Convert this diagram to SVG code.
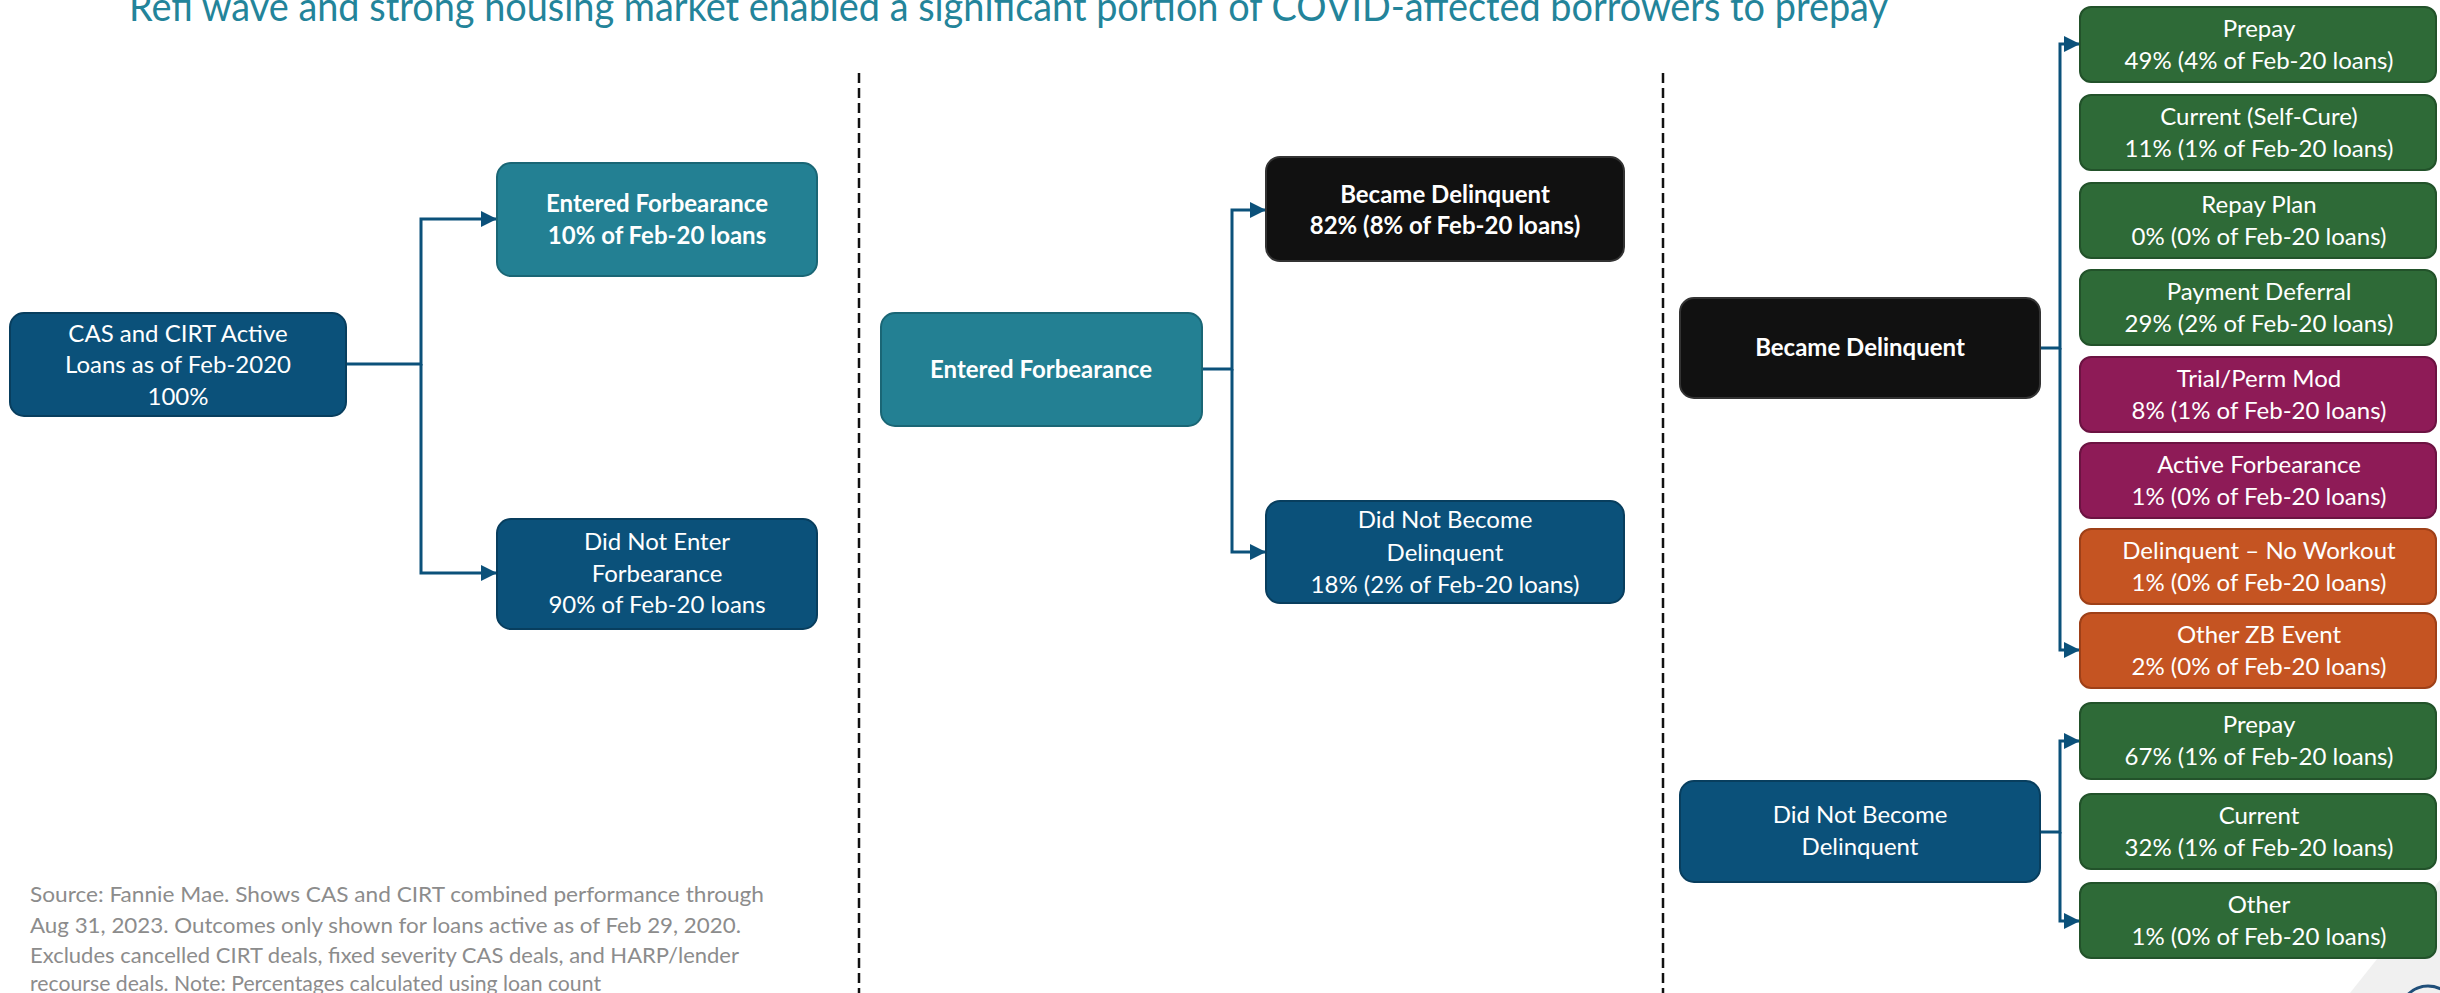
<svg xmlns="http://www.w3.org/2000/svg" width="2440" height="993" viewBox="0 0 2440 993">
<defs>
<style>
.t{font-family:Lato,"Noto Sans",sans-serif;font-size:24px;fill:#ffffff;text-anchor:middle}
.b{font-weight:bold}
.blue{fill:#0B517A;stroke:#083E5E;stroke-width:2}
.teal{fill:#238093;stroke:#1A6675;stroke-width:2}
.blk{fill:#111111;stroke:#333333;stroke-width:2}
.grn{fill:#2E6A37;stroke:#22522A;stroke-width:2}
.mag{fill:#8E1B57;stroke:#6C1342;stroke-width:2}
.org{fill:#C55422;stroke:#9E4018;stroke-width:2}
.con{fill:none;stroke:#0B517A;stroke-width:3}
.dash{stroke:#111111;stroke-width:2.5;stroke-dasharray:10 5}
.foot{font-family:Lato,"Noto Sans",sans-serif;font-size:22px;fill:#8C8C8C}
</style>
<marker id="arr" markerUnits="userSpaceOnUse" markerWidth="16" markerHeight="16" refX="16" refY="8" orient="auto">
<path d="M0,0 L16,8 L0,16 z" fill="#0B517A"/>
</marker>
</defs>
<rect width="2440" height="993" fill="#ffffff"/>
<polygon points="2350,993 2440,880 2440,993" fill="#F0F0F0"/>
<circle cx="2428" cy="1014" r="28" fill="none" stroke="#1F4E79" stroke-width="3"/>
<text x="129" y="21" font-family="Lato,'Noto Sans',sans-serif" font-size="40" fill="#23849A" textLength="1759" lengthAdjust="spacingAndGlyphs">Refi wave and strong housing market enabled a significant portion of COVID-affected borrowers to prepay</text>
<g id="dividers">
<line class="dash" x1="859" y1="73" x2="859" y2="993"/>
<line class="dash" x1="1663" y1="73" x2="1663" y2="993"/>
</g>
<g id="connectors">
<path class="con" d="M346,364 H421 V219 H497" marker-end="url(#arr)"/>
<path class="con" d="M421,364 V573 H497" marker-end="url(#arr)"/>
<path class="con" d="M1202,369 H1232 V210 H1266" marker-end="url(#arr)"/>
<path class="con" d="M1232,369 V552 H1266" marker-end="url(#arr)"/>
<path class="con" d="M2040,348 H2060 V44 H2080" marker-end="url(#arr)"/>
<path class="con" d="M2060,348 V650 H2080" marker-end="url(#arr)"/>
<path class="con" d="M2040,832 H2060 V741 H2080" marker-end="url(#arr)"/>
<path class="con" d="M2060,832 V921 H2080" marker-end="url(#arr)"/>
</g>
<g id="n-cas">
<rect class="blue" x="10" y="313" width="336" height="103" rx="14"/>
<text class="t" x="178" y="342">CAS and CIRT Active</text>
<text class="t" x="178" y="373">Loans as of Feb-2020</text>
<text class="t" x="178" y="405">100%</text>
</g>
<g id="n-ef1">
<rect class="teal" x="497" y="163" width="320" height="113" rx="14"/>
<text class="t b" x="657" y="212">Entered Forbearance</text>
<text class="t b" x="657" y="244">10% of Feb-20 loans</text>
</g>
<g id="n-dne">
<rect class="blue" x="497" y="519" width="320" height="110" rx="14"/>
<text class="t" x="657" y="550">Did Not Enter</text>
<text class="t" x="657" y="582">Forbearance</text>
<text class="t" x="657" y="613">90% of Feb-20 loans</text>
</g>
<g id="n-ef2">
<rect class="teal" x="881" y="313" width="321" height="113" rx="14"/>
<text class="t b" x="1041" y="378">Entered Forbearance</text>
</g>
<g id="n-bd1">
<rect class="blk" x="1266" y="157" width="358" height="104" rx="14"/>
<text class="t b" x="1445" y="203">Became Delinquent</text>
<text class="t b" x="1445" y="234">82% (8% of Feb-20 loans)</text>
</g>
<g id="n-dnbd1">
<rect class="blue" x="1266" y="501" width="358" height="102" rx="14"/>
<text class="t" x="1445" y="528">Did Not Become</text>
<text class="t" x="1445" y="561">Delinquent</text>
<text class="t" x="1445" y="593">18% (2% of Feb-20 loans)</text>
</g>
<g id="n-bd2">
<rect class="blk" x="1680" y="298" width="360" height="100" rx="14"/>
<text class="t b" x="1860" y="356">Became Delinquent</text>
</g>
<g id="n-dnbd2">
<rect class="blue" x="1680" y="781" width="360" height="101" rx="14"/>
<text class="t" x="1860" y="823">Did Not Become</text>
<text class="t" x="1860" y="855">Delinquent</text>
</g>
<g id="o-prepay1">
<rect class="grn" x="2080" y="7" width="356" height="75" rx="11"/>
<text class="t" x="2259" y="37">Prepay</text>
<text class="t" x="2259" y="69">49% (4% of Feb-20 loans)</text>
</g>
<g id="o-current1">
<rect class="grn" x="2080" y="95" width="356" height="75" rx="11"/>
<text class="t" x="2259" y="125">Current (Self-Cure)</text>
<text class="t" x="2259" y="157">11% (1% of Feb-20 loans)</text>
</g>
<g id="o-repay">
<rect class="grn" x="2080" y="183" width="356" height="75" rx="11"/>
<text class="t" x="2259" y="213">Repay Plan</text>
<text class="t" x="2259" y="245">0% (0% of Feb-20 loans)</text>
</g>
<g id="o-deferral">
<rect class="grn" x="2080" y="270" width="356" height="75" rx="11"/>
<text class="t" x="2259" y="300">Payment Deferral</text>
<text class="t" x="2259" y="332">29% (2% of Feb-20 loans)</text>
</g>
<g id="o-mod">
<rect class="mag" x="2080" y="357" width="356" height="75" rx="11"/>
<text class="t" x="2259" y="387">Trial/Perm Mod</text>
<text class="t" x="2259" y="419">8% (1% of Feb-20 loans)</text>
</g>
<g id="o-forb">
<rect class="mag" x="2080" y="443" width="356" height="75" rx="11"/>
<text class="t" x="2259" y="473">Active Forbearance</text>
<text class="t" x="2259" y="505">1% (0% of Feb-20 loans)</text>
</g>
<g id="o-nowork">
<rect class="org" x="2080" y="529" width="356" height="75" rx="11"/>
<text class="t" x="2259" y="559">Delinquent – No Workout</text>
<text class="t" x="2259" y="591">1% (0% of Feb-20 loans)</text>
</g>
<g id="o-zb">
<rect class="org" x="2080" y="613" width="356" height="75" rx="11"/>
<text class="t" x="2259" y="643">Other ZB Event</text>
<text class="t" x="2259" y="675">2% (0% of Feb-20 loans)</text>
</g>
<g id="o-prepay2">
<rect class="grn" x="2080" y="703" width="356" height="76" rx="11"/>
<text class="t" x="2259" y="733">Prepay</text>
<text class="t" x="2259" y="765">67% (1% of Feb-20 loans)</text>
</g>
<g id="o-current2">
<rect class="grn" x="2080" y="794" width="356" height="75" rx="11"/>
<text class="t" x="2259" y="824">Current</text>
<text class="t" x="2259" y="856">32% (1% of Feb-20 loans)</text>
</g>
<g id="o-other">
<rect class="grn" x="2080" y="883" width="356" height="75" rx="11"/>
<text class="t" x="2259" y="913">Other</text>
<text class="t" x="2259" y="945">1% (0% of Feb-20 loans)</text>
</g>
<g id="footnote">
<text class="foot" x="30" y="902" textLength="734" lengthAdjust="spacingAndGlyphs">Source: Fannie Mae. Shows CAS and CIRT combined performance through</text>
<text class="foot" x="30" y="933" textLength="711" lengthAdjust="spacingAndGlyphs">Aug 31, 2023. Outcomes only shown for loans active as of Feb 29, 2020.</text>
<text class="foot" x="30" y="963" textLength="709" lengthAdjust="spacingAndGlyphs">Excludes cancelled CIRT deals, fixed severity CAS deals, and HARP/lender</text>
<text class="foot" x="30" y="991" textLength="571" lengthAdjust="spacingAndGlyphs">recourse deals. Note: Percentages calculated using loan count</text>
</g>
</svg>
